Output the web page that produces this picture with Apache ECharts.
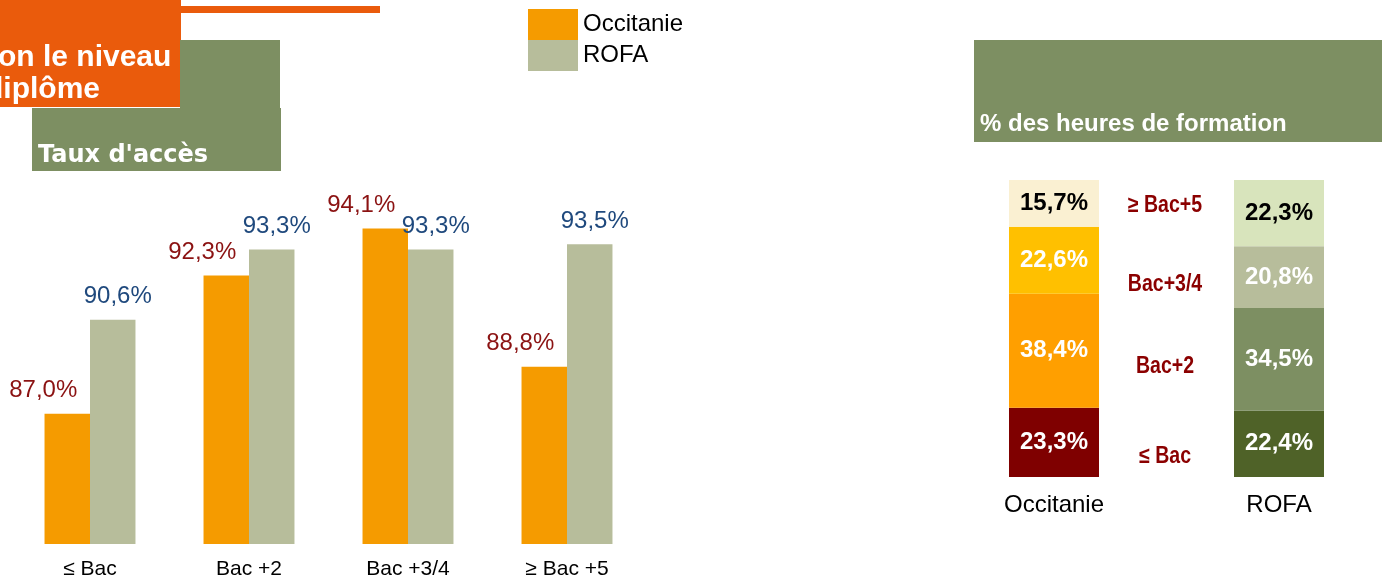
<!DOCTYPE html>
<html><head><meta charset="utf-8">
<script src="https://cdn.jsdelivr.net/npm/echarts@6/dist/echarts.min.js"></script>
<style>html,body{margin:0;padding:0;background:#fff}#c{width:1382px;height:580px}</style>
</head><body><div id="c"></div>
<script>
const levels = ['≤ Bac', 'Bac +2', 'Bac +3/4', '≥ Bac +5'];
const occitanieAcces = [87.0, 92.3, 94.1, 88.8];
const rofaAcces = [90.6, 93.3, 93.3, 93.5];

const regions = ['Occitanie', '', 'ROFA'];
const stackLevels = ['≤ Bac', 'Bac+2', 'Bac+3/4', '≥ Bac+5'];
const occitanieHeures = [23.3, 38.4, 22.6, 15.7];
const rofaHeures = [22.4, 34.5, 20.8, 22.3];

const occColors = ['#7F0000', '#FF9F00', '#FFC000', '#FAF0D2'];
const rofaColors = ['#4F6228', '#7D8F62', '#B7BD9B', '#D8E4BC'];
const F = '"Liberation Sans", Arial, sans-serif';
const FW = '"DejaVu Sans", Verdana, sans-serif';
const fmt = v => v.toFixed(1).replace('.', ',') + '%';

const chart = echarts.init(document.getElementById('c'));

const stackSeries = stackLevels.map((name, i) => ({
  name: name,
  type: 'bar',
  stack: 'h',
  xAxisIndex: 1, yAxisIndex: 1,
  barWidth: 90,
  data: [
    {value: occitanieHeures[i], itemStyle: {color: occColors[i]},
     label: {color: i === 3 ? '#000' : '#fff'}},
    '-',
    {value: rofaHeures[i], itemStyle: {color: rofaColors[i]},
     label: {color: i === 3 ? '#000' : '#fff'}}
  ],
  label: {show: true, position: 'inside', fontFamily: F, fontWeight: 'bold', fontSize: 24,
          formatter: p => fmt(p.value)},
  emphasis: {disabled: true}
}));

const midLabelY = [457, 367, 285, 206];

chart.setOption({
  animation: false,
  legend: {
    data: ['Occitanie', 'ROFA'], orient: 'vertical', left: 528, top: 9,
    itemWidth: 50, itemHeight: 31, itemGap: 0, icon: 'rect', padding: 0,
    textStyle: {fontFamily: F, fontSize: 24, color: '#000'}
  },
  grid: [
    {left: 10.5, width: 636, top: 179, bottom: 36, outerBoundsMode: 'none'},
    {left: 997.75, width: 337.5, top: 180, bottom: 103, outerBoundsMode: 'none'}
  ],
  xAxis: [
    {type: 'category', data: levels, gridIndex: 0,
     axisLine: {show: false}, axisTick: {show: false},
     axisLabel: {fontFamily: F, fontSize: 21, color: '#000', margin: 15}},
    {type: 'category', data: regions, gridIndex: 1,
     axisLine: {show: false}, axisTick: {show: false},
     axisLabel: {fontFamily: F, fontSize: 24, color: '#000', margin: 16, interval: 0}}
  ],
  yAxis: [
    {type: 'value', gridIndex: 0, min: 82, max: 96, show: false, splitLine: {show: false}},
    {type: 'value', gridIndex: 1, min: 0, max: 100, show: false, splitLine: {show: false}}
  ],
  series: [
    {name: 'Occitanie', type: 'bar', data: occitanieAcces, barGap: '0%', barCategoryGap: '42.8%',
     itemStyle: {color: '#F59B00'},
     label: {show: true, position: 'top', offset: [-24, -6], fontFamily: F, fontSize: 24,
             color: '#8B1212', formatter: p => fmt(p.value)},
     emphasis: {disabled: true}},
    {name: 'ROFA', type: 'bar', data: rofaAcces,
     itemStyle: {color: '#B7BD9B'},
     label: {show: true, position: 'top', offset: [5, -6], fontFamily: F, fontSize: 24,
             color: '#1F497D', formatter: p => fmt(p.value)},
     emphasis: {disabled: true}}
  ].concat(stackSeries),
  graphic: [
    {type: 'rect', shape: {x: 0, y: 0, width: 181, height: 107}, style: {fill: '#EA5B0C'}, z: 10},
    {type: 'rect', shape: {x: 180, y: 6, width: 200, height: 7}, style: {fill: '#EA5B0C'}, z: 10},
    {type: 'rect', shape: {x: 180, y: 40, width: 100, height: 68}, style: {fill: '#7D8F62'}, z: 10},
    {type: 'rect', shape: {x: 32, y: 108, width: 249, height: 63}, style: {fill: '#7D8F62'}, z: 10},
    {type: 'text', x: -2, y: 58, z: 11, style: {text: 'on le niveau', fill: '#fff', font: 'bold 30px ' + F, textVerticalAlign: 'middle'}},
    {type: 'text', x: -15, y: 90, z: 11, style: {text: 'diplôme', fill: '#fff', font: 'bold 30px ' + F, textVerticalAlign: 'middle'}},
    {type: 'text', x: 38, y: 156, z: 11, style: {text: "Taux d'accès", fill: '#fff', font: 'bold 24px ' + FW, textVerticalAlign: 'middle'}},
    {type: 'rect', shape: {x: 974, y: 40, width: 408, height: 102}, style: {fill: '#7D8F62'}, z: 10},
    {type: 'text', x: 980, y: 124, z: 11, style: {text: '% des heures de formation', fill: '#fff', font: 'bold 24px ' + F, textVerticalAlign: 'middle'}}
  ].concat(stackLevels.map((t, i) => ({
    type: 'text', x: 1165, y: midLabelY[i], z: 11, scaleX: 0.85,
    style: {text: t, fill: '#8B0000', font: 'bold 23px ' + F, textAlign: 'center', textVerticalAlign: 'middle'}
  })))
});
</script></body></html>
